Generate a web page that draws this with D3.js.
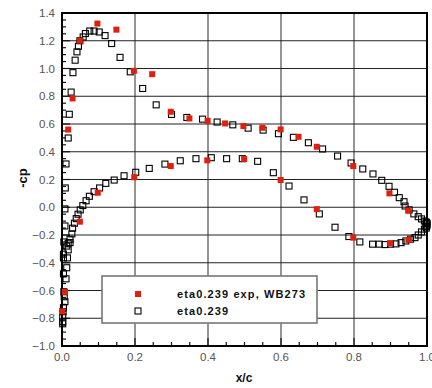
<!DOCTYPE html>
<html><head><meta charset="utf-8">
<script src="https://cdn.jsdelivr.net/npm/d3@7"></script>
<style>body{margin:0;background:#fff}svg{display:block}</style>
</head><body>
<svg id="c" width="432" height="388"></svg>
<script>
// ---- data ----
const xTicks = [0.0, 0.2, 0.4, 0.6, 0.8, 1.0];
const yTicks = [-1.0, -0.8, -0.6, -0.4, -0.2, 0.0, 0.2, 0.4, 0.6, 0.8, 1.0, 1.2, 1.4];
const seriesNames = ["eta0.239 exp, WB273", "eta0.239"];

// CFD (eta0.239): [x/c, -cp]
const cfdUpper = [[0.002,-0.84],[0.002,-0.825],[0.002,-0.79],[0.003,-0.753],[0.004,-0.724],[0.008,-0.681],[0.006,-0.645],[0.005,-0.609],[0.011,-0.516],[0.004,-0.48],[0.013,-0.436],[0.004,-0.365],[0.004,-0.338],[0.005,-0.25],[0.008,-0.135],[0.008,-0.012],[0.009,0.139],[0.011,0.312],[0.017,0.499],[0.020,0.67],[0.025,0.83],[0.030,0.97],[0.036,1.06],[0.041,1.12],[0.045,1.16],[0.049,1.20],[0.058,1.227],[0.064,1.252],[0.076,1.27],[0.088,1.27],[0.102,1.263],[0.118,1.237],[0.136,1.18],[0.159,1.08],[0.187,0.976],[0.221,0.856],[0.258,0.738],[0.300,0.669],[0.342,0.647],[0.385,0.635],[0.425,0.614],[0.468,0.594],[0.510,0.570],[0.551,0.556],[0.593,0.53],[0.634,0.504],[0.675,0.465],[0.714,0.42],[0.755,0.369],[0.792,0.319],[0.824,0.276],[0.852,0.24],[0.876,0.194],[0.896,0.151],[0.911,0.108],[0.924,0.069],[0.937,0.04],[0.940,0.009],[0.951,-0.019],[0.964,-0.048],[0.976,-0.068],[0.985,-0.084],[0.993,-0.099],[0.997,-0.105],[0.999,-0.111],[1.0,-0.118],[1.0,-0.128],[0.999,-0.138],[0.998,-0.15]];
const cfdLower = [[0.013,-0.28],[0.017,-0.307],[0.015,-0.365],[0.022,-0.255],[0.022,-0.23],[0.017,-0.259],[0.027,-0.192],[0.029,-0.151],[0.034,-0.115],[0.039,-0.082],[0.044,-0.05],[0.050,-0.019],[0.057,0.012],[0.066,0.047],[0.075,0.079],[0.088,0.112],[0.103,0.139],[0.120,0.172],[0.143,0.196],[0.170,0.227],[0.202,0.252],[0.239,0.28],[0.282,0.311],[0.324,0.335],[0.367,0.35],[0.409,0.357],[0.451,0.35],[0.494,0.35],[0.536,0.331],[0.579,0.249],[0.622,0.153],[0.663,0.053],[0.705,-0.048],[0.748,-0.144],[0.786,-0.211],[0.816,-0.25],[0.851,-0.266],[0.869,-0.266],[0.885,-0.269],[0.900,-0.266],[0.915,-0.264],[0.929,-0.255],[0.942,-0.243],[0.955,-0.23],[0.967,-0.219],[0.976,-0.2],[0.985,-0.178],[0.993,-0.158],[0.997,-0.14]];

// Experiment (eta0.239 exp, WB273): [x/c, -cp]
const expUpper = [[0.0,-0.75],[0.008,-0.61],[0.017,0.56],[0.029,0.784],[0.049,1.2],[0.097,1.324],[0.149,1.28],[0.197,0.983],[0.247,0.959],[0.298,0.688],[0.349,0.64],[0.399,0.623],[0.447,0.604],[0.497,0.585],[0.549,0.573],[0.599,0.561],[0.648,0.508],[0.698,0.436],[0.798,0.297],[0.897,0.10],[0.949,-0.024]];
const expLower = [[0.049,-0.104],[0.098,0.105],[0.198,0.216],[0.298,0.297],[0.398,0.338],[0.499,0.347],[0.599,0.196],[0.698,-0.014],[0.798,-0.219],[0.899,-0.259],[0.949,-0.235]];

// ---- drawing ----
const svg = d3.select("#c");
const L = 62, R = 427, T = 13, B = 346;
const x = d3.scaleLinear().domain([0, 1]).range([L, R]);
const y = d3.scaleLinear().domain([-1, 1.4]).range([B, T]);
const fmt = d3.format(".1f");
const red = "#e0200c";

// grid
svg.append("g").selectAll("line").data(xTicks.slice(1, -1)).join("line")
  .attr("x1", d => x(d)).attr("x2", d => x(d)).attr("y1", T).attr("y2", B)
  .attr("stroke", "#7a7a7a").attr("stroke-width", 1.6);
svg.append("g").selectAll("line").data(yTicks.slice(1, -1)).join("line")
  .attr("x1", L).attr("x2", R).attr("y1", d => y(d)).attr("y2", d => y(d))
  .attr("stroke", "#222").attr("stroke-width", 1.2);

// minor ticks
const yMinor = d3.range(-1, 1.4001, 0.05);
svg.append("g").selectAll("line").data(yMinor).join("line")
  .attr("x1", L).attr("x2", d => L + (Math.abs(d * 5 - Math.round(d * 5)) < 1e-6 ? 8 : 4))
  .attr("y1", d => y(d)).attr("y2", d => y(d)).attr("stroke", "#111").attr("stroke-width", 1.2);
const xMinor = d3.range(0, 1.0001, 0.05);
svg.append("g").selectAll("line").data(xMinor).join("line")
  .attr("y1", B).attr("y2", d => B - (Math.abs(d * 5 - Math.round(d * 5)) < 1e-6 ? 8 : 4))
  .attr("x1", d => x(d)).attr("x2", d => x(d)).attr("stroke", "#111").attr("stroke-width", 1.2);

// frame
svg.append("rect").attr("x", L).attr("y", T).attr("width", R - L).attr("height", B - T)
  .attr("fill", "none").attr("stroke", "#000").attr("stroke-width", 2);

// tick labels
svg.append("g").selectAll("text").data(yTicks).join("text")
  .attr("x", L - 7).attr("y", d => y(d) + 4).attr("text-anchor", "end")
  .attr("font-family", "Liberation Sans, Arial, sans-serif").attr("font-size", 11.5)
  .attr("fill", "#555").text(d => fmt(d).replace("-", "-"));
svg.append("g").selectAll("text").data(xTicks).join("text")
  .attr("x", d => x(d)).attr("y", B + 15).attr("text-anchor", "middle")
  .attr("font-family", "Liberation Sans, Arial, sans-serif").attr("font-size", 11.5)
  .attr("fill", "#555").text(d => fmt(d));

// axis titles
svg.append("text").attr("transform", "translate(27,178) rotate(-90)")
  .attr("text-anchor", "middle").attr("font-family", "Liberation Sans, Arial, sans-serif")
  .attr("font-size", 13).attr("font-weight", "bold").attr("fill", "#111").text("-cp");
svg.append("text").attr("x", 244).attr("y", 382)
  .attr("text-anchor", "middle").attr("font-family", "Liberation Sans, Arial, sans-serif")
  .attr("font-size", 12).attr("font-weight", "bold").attr("fill", "#111").text("x/c");

// CFD open squares
const cfd = cfdUpper.concat(cfdLower);
svg.append("g").selectAll("rect").data(cfd).join("rect")
  .attr("x", d => x(d[0]) - 3).attr("y", d => y(d[1]) - 3).attr("width", 6).attr("height", 6)
  .attr("fill", "none").attr("stroke", "#000").attr("stroke-width", 1.1);

// experiment filled squares
const exp = expUpper.concat(expLower);
svg.append("g").selectAll("rect").data(exp).join("rect")
  .attr("x", d => x(d[0]) - 3).attr("y", d => y(d[1]) - 3).attr("width", 6).attr("height", 6)
  .attr("fill", red);

// legend
const lg = svg.append("g");
lg.append("rect").attr("x", 102).attr("y", 276).attr("width", 215).attr("height", 47)
  .attr("fill", "#fff").attr("stroke", "#777").attr("stroke-width", 1.6);
lg.append("rect").attr("x", 135).attr("y", 291).attr("width", 6).attr("height", 6).attr("fill", red);
lg.append("rect").attr("x", 135).attr("y", 308).attr("width", 6).attr("height", 6)
  .attr("fill", "none").attr("stroke", "#000").attr("stroke-width", 1.1);
lg.selectAll("text").data(seriesNames).join("text")
  .attr("x", 177).attr("y", (d, i) => 298 + i * 17)
  .attr("font-family", "Liberation Sans, Arial, sans-serif").attr("font-size", 11)
  .attr("font-weight", "bold").attr("letter-spacing", 1.1).attr("fill", "#111").text(d => d);
</script>
</body></html>
